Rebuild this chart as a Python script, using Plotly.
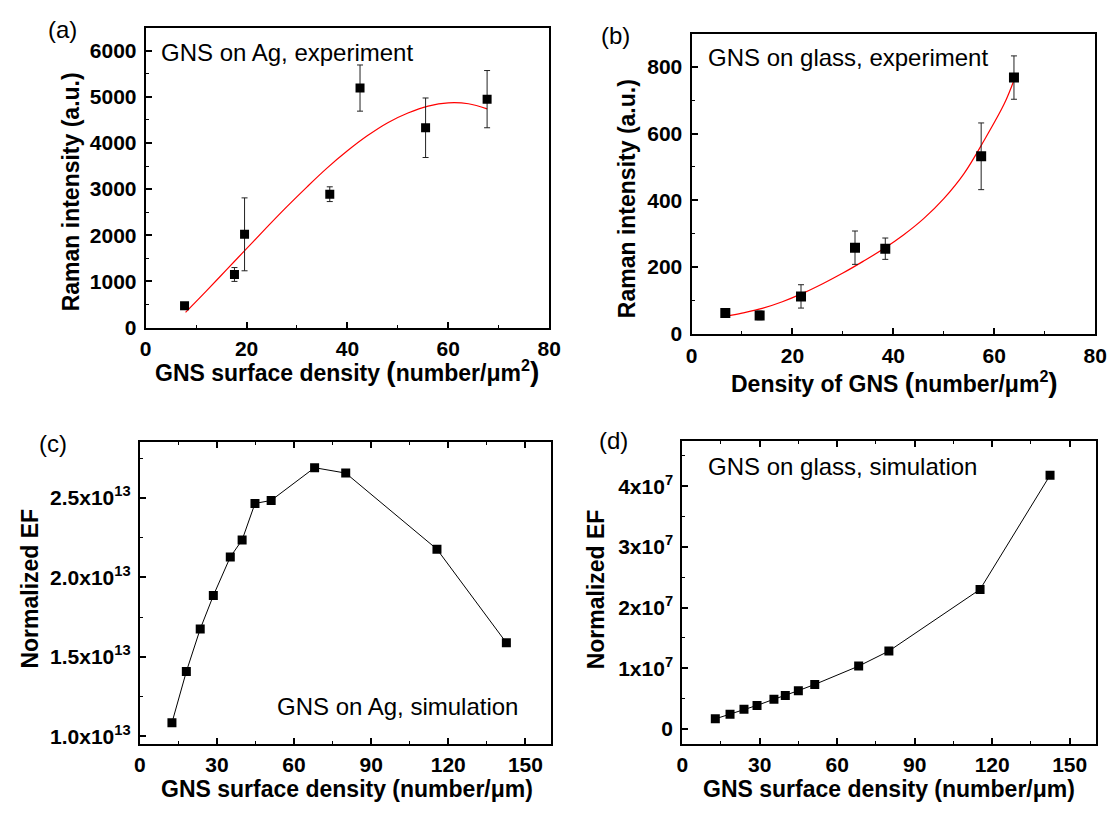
import plotly.graph_objects as go

W, H = 1120, 819
FONT = "Liberation Sans, Arial, sans-serif"

# ---------------- data ----------------
# (a) GNS on Ag, experiment
a_x = [7.7, 17.6, 19.6, 36.5, 42.5, 55.5, 67.7]
a_y = [470, 1150, 2020, 2890, 5190, 4330, 4950]
a_err = [0, 150, 790, 160, 500, 645, 620]
a_fit_x = [7.9, 12, 16, 20, 24, 28, 32, 36, 40, 44, 48, 52, 56, 60, 64, 67.7]
a_fit_y = [330, 790, 1250, 1710, 2170, 2620, 3050, 3460, 3830, 4160, 4440, 4650, 4800, 4870, 4850, 4740]

# (b) GNS on glass, experiment
b_x = [6.7, 13.5, 21.7, 32.4, 38.4, 57.4, 63.9]
b_y = [62, 55, 112, 258, 255, 532, 768]
b_err = [10, 13, 35, 50, 32, 100, 65]
b_fit_x = [6.7, 10, 14, 18, 22, 26, 30, 34, 38, 42, 46, 50, 54, 58, 62, 63.9]
b_fit_y = [52, 62, 76, 96, 121, 150, 182, 217, 254, 296, 345, 405, 480, 580, 690, 760]

# (c) GNS on Ag, simulation
c_x = [12.5, 18.1, 23.5, 28.6, 35.2, 39.8, 44.8, 51.1, 68.0, 80.1, 115.6, 142.6]
c_y = [1.085e13, 1.407e13, 1.675e13, 1.885e13, 2.128e13, 2.235e13, 2.465e13,
       2.484e13, 2.690e13, 2.656e13, 2.177e13, 1.588e13]

# (d) GNS on glass, simulation
d_x = [12.8, 18.5, 23.9, 28.95, 35.5, 39.9, 44.95, 51.3, 68.3, 80.0, 115.3, 142.4]
d_y = [0.167e7, 0.243e7, 0.324e7, 0.389e7, 0.49e7, 0.55e7, 0.632e7, 0.734e7,
       1.036e7, 1.284e7, 2.30e7, 4.18e7]

# ---------------- ticks ----------------
ab_xticks = [0, 20, 40, 60, 80]
ab_xminor = [10, 30, 50, 70]
a_yticks = [0, 1000, 2000, 3000, 4000, 5000, 6000]
a_yminor = [500, 1500, 2500, 3500, 4500, 5500, 6500]
b_yticks = [0, 200, 400, 600, 800]
b_yminor = [100, 300, 500, 700, 900]
cd_xticks = [0, 30, 60, 90, 120, 150]
cd_xminor = [15, 45, 75, 105, 135]
c_yticks = [1.0e13, 1.5e13, 2.0e13, 2.5e13]
c_ylabels = ["1.0x10<sup>13</sup>", "1.5x10<sup>13</sup>", "2.0x10<sup>13</sup>", "2.5x10<sup>13</sup>"]
c_yminor = [1.25e13, 1.75e13, 2.25e13, 2.75e13]
d_yticks = [0, 1e7, 2e7, 3e7, 4e7]
d_ylabels = ["0", "1x10<sup>7</sup>", "2x10<sup>7</sup>", "3x10<sup>7</sup>", "4x10<sup>7</sup>"]
d_yminor = [-0.5e7, 0.5e7, 1.5e7, 2.5e7, 3.5e7, 4.5e7]


def px(x):
    return x / W


def py(y):
    return 1 - y / H


fig = go.Figure()

# (a)
fig.add_trace(go.Scatter(x=a_fit_x, y=a_fit_y, mode="lines",
                         line=dict(color="#ff0000", width=1.2, shape="spline"),
                         xaxis="x", yaxis="y", showlegend=False))
fig.add_trace(go.Scatter(x=a_x, y=a_y, mode="markers",
                         marker=dict(symbol="square", size=9, color="black"),
                         error_y=dict(type="data", array=a_err, color="#222222", thickness=1, width=3),
                         xaxis="x", yaxis="y", showlegend=False))
# (b)
fig.add_trace(go.Scatter(x=b_fit_x, y=b_fit_y, mode="lines",
                         line=dict(color="#ff0000", width=1.2, shape="spline"),
                         xaxis="x2", yaxis="y2", showlegend=False))
fig.add_trace(go.Scatter(x=b_x, y=b_y, mode="markers",
                         marker=dict(symbol="square", size=10, color="black"),
                         error_y=dict(type="data", array=b_err, color="#222222", thickness=1, width=3),
                         xaxis="x2", yaxis="y2", showlegend=False))
# (c)
fig.add_trace(go.Scatter(x=c_x, y=c_y, mode="lines+markers",
                         line=dict(color="black", width=1),
                         marker=dict(symbol="square", size=9, color="black"),
                         xaxis="x3", yaxis="y3", showlegend=False))
# (d)
fig.add_trace(go.Scatter(x=d_x, y=d_y, mode="lines+markers",
                         line=dict(color="black", width=1),
                         marker=dict(symbol="square", size=9, color="black"),
                         xaxis="x4", yaxis="y4", showlegend=False))


def bold(labels):
    return ["<b>" + str(s) + "</b>" for s in labels]


def axis(domain, rng, anchor, vals, labels, minor_vals, mirror=True, standoff=3):
    return dict(domain=domain, range=rng, anchor=anchor, showline=True, linecolor="black",
                linewidth=2, mirror=mirror, ticks="inside", ticklen=6, tickwidth=1.5,
                tickcolor="black", showgrid=False, zeroline=False,
                tickmode="array", tickvals=vals, ticktext=bold(labels),
                tickfont=dict(family=FONT, size=21, color="black", weight="bold"),
                ticklabelstandoff=standoff,
                minor=dict(ticks="inside", ticklen=3, tickwidth=1, tickcolor="black",
                           tickvals=minor_vals, showgrid=False))


dom_a_x = [px(142), px(552)]
dom_a_y = [py(332), py(28)]
dom_b_x = [px(696.7), px(1107)]
dom_b_y = [py(338.3), py(34)]
dom_c_x = [px(136), px(554)]
dom_c_y = [py(754.3), py(448.3)]
dom_d_x = [px(687.3), px(1107.3)]
dom_d_y = [py(754.3), py(446.7)]

fig.update_layout(
    width=W, height=H,
    margin=dict(l=0, r=0, t=0, b=0),
    paper_bgcolor="white", plot_bgcolor="white",
    font=dict(family=FONT, color="black", size=21),
    xaxis=axis(dom_a_x, [0, 80], "y", ab_xticks, ab_xticks, ab_xminor, standoff=1),
    yaxis=axis(dom_a_y, [0, 6500], "x", a_yticks, a_yticks, a_yminor),
    xaxis2=axis(dom_b_x, [0, 80], "y2", ab_xticks, ab_xticks, ab_xminor, standoff=2),
    yaxis2=axis(dom_b_y, [0, 900], "x2", b_yticks, b_yticks, b_yminor),
    xaxis3=axis(dom_c_x, [0, 160], "y3", cd_xticks, cd_xticks, cd_xminor, mirror="ticks", standoff=1),
    yaxis3=axis(dom_c_y, [0.95e13, 2.85e13], "x3", c_yticks, c_ylabels, c_yminor),
    xaxis4=axis(dom_d_x, [0, 160], "y4", cd_xticks, cd_xticks, cd_xminor, mirror="ticks", standoff=1),
    yaxis4=axis(dom_d_y, [-0.25e7, 4.75e7], "x4", d_yticks, d_ylabels, d_yminor),
)

ann = []


def text(x, y, s, size=24, bold_=False, angle=0, xanchor="center"):
    ann.append(dict(x=px(x), y=py(y), xref="paper", yref="paper", text=s, showarrow=False,
                    xanchor=xanchor, yanchor="middle", textangle=angle,
                    font=dict(family=FONT, size=size, color="black",
                              weight="bold" if bold_ else "normal")))


# panel letters
text(57, 30, "(a)")
text(619, 36, "(b)")
text(48, 450, "(c)")
text(617, 447, "(d)")

# in-plot labels
text(155, 53, "GNS on Ag, experiment", xanchor="left")
text(711, 58, "GNS on glass, experiment", xanchor="left")
text(273, 716, "GNS on Ag, simulation", xanchor="left")
text(711, 473, "GNS on glass, simulation", xanchor="left")

BIGL = '<span style="font-size:28px">(</span>'
BIGR = '<span style="font-size:28px">)</span>'

# axis titles
text(66, 194, "Raman intensity (a.u.)", size=23, bold_=True, angle=-90)
text(347, 377, "GNS surface density " + BIGL + "number/μm<sup>2</sup>" + BIGR, size=23, bold_=True)
text(631, 201, "Raman intensity (a.u.)", size=23, bold_=True, angle=-90)
text(903, 388, "Density of GNS " + BIGL + "number/μm<sup>2</sup>" + BIGR, size=23, bold_=True)
text(24, 597, "Normalized EF", size=23, bold_=True, angle=-90)
text(347, 800, "GNS surface density (number/μm)", size=23, bold_=True)
text(600, 597, "Normalized EF", size=23, bold_=True, angle=-90)
text(897, 800, "GNS surface density (number/μm)", size=23, bold_=True)

fig.update_layout(annotations=ann)

fig.write_html("out.html")
